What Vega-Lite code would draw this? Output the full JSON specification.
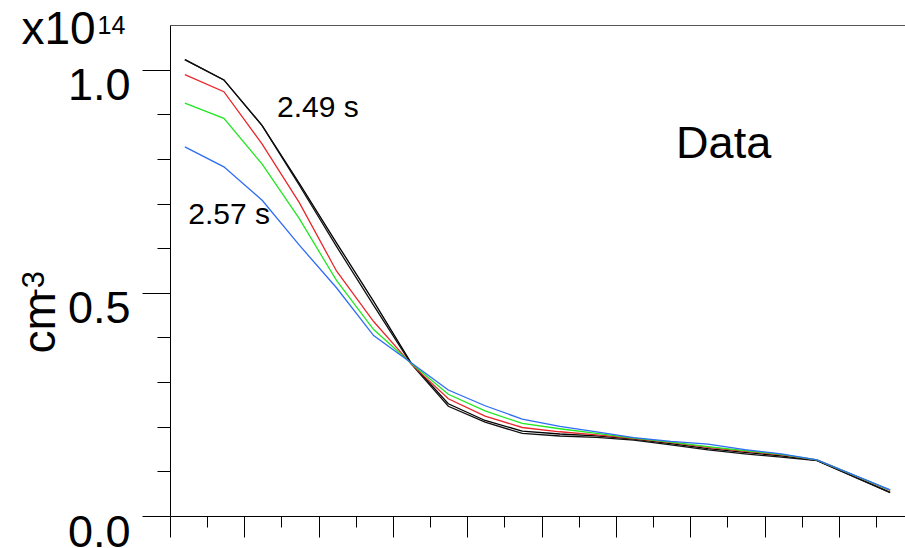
{
  "$schema": "https://vega.github.io/schema/vega-lite/v6.json",
  "width": 735,
  "height": 491,
  "autosize": {"type": "none"},
  "padding": {"left": 170, "top": 25, "right": 0, "bottom": 32},
  "background": "white",
  "config": {
    "font": "Liberation Sans",
    "view": {"stroke": null},
    "axis": {
      "domainColor": "#000000",
      "tickColor": "#000000",
      "domainWidth": 1,
      "tickWidth": 1,
      "grid": false,
      "labelColor": "#000000",
      "titleColor": "#000000",
      "titleFontWeight": "normal",
      "labelFlush": false,
      "labelOverlap": false,
      "labelBound": false
    }
  },
  "datasets": {
    "profiles": [
      {"series": "A", "r": 0.40, "n": 1.0225}, {"series": "A", "r": 1.45, "n": 0.977}, {"series": "A", "r": 2.48, "n": 0.8747}, {"series": "A", "r": 3.48, "n": 0.745}, {"series": "A", "r": 4.48, "n": 0.612}, {"series": "A", "r": 5.48, "n": 0.481}, {"series": "A", "r": 6.48, "n": 0.344}, {"series": "A", "r": 7.49, "n": 0.2514}, {"series": "A", "r": 8.48, "n": 0.214}, {"series": "A", "r": 9.48, "n": 0.1901}, {"series": "A", "r": 10.49, "n": 0.1837}, {"series": "A", "r": 11.48, "n": 0.1797}, {"series": "A", "r": 12.48, "n": 0.1722}, {"series": "A", "r": 13.48, "n": 0.1621}, {"series": "A", "r": 14.48, "n": 0.1511}, {"series": "A", "r": 15.47, "n": 0.1426}, {"series": "A", "r": 16.45, "n": 0.1347}, {"series": "A", "r": 17.41, "n": 0.1245}, {"series": "A", "r": 19.38, "n": 0.0531},
      {"series": "B", "r": 0.40, "n": 1.0225}, {"series": "B", "r": 1.45, "n": 0.977}, {"series": "B", "r": 2.48, "n": 0.8747}, {"series": "B", "r": 3.48, "n": 0.741}, {"series": "B", "r": 4.48, "n": 0.604}, {"series": "B", "r": 5.48, "n": 0.472}, {"series": "B", "r": 6.48, "n": 0.342}, {"series": "B", "r": 7.49, "n": 0.2458}, {"series": "B", "r": 8.48, "n": 0.2103}, {"series": "B", "r": 9.48, "n": 0.1849}, {"series": "B", "r": 10.49, "n": 0.1792}, {"series": "B", "r": 11.48, "n": 0.1763}, {"series": "B", "r": 12.48, "n": 0.170}, {"series": "B", "r": 13.48, "n": 0.1594}, {"series": "B", "r": 14.48, "n": 0.1482}, {"series": "B", "r": 15.47, "n": 0.1392}, {"series": "B", "r": 16.45, "n": 0.1318}, {"series": "B", "r": 17.41, "n": 0.124}, {"series": "B", "r": 19.38, "n": 0.0524},
      {"series": "C", "r": 0.40, "n": 0.9888}, {"series": "C", "r": 1.45, "n": 0.9506}, {"series": "C", "r": 2.48, "n": 0.8331}, {"series": "C", "r": 3.48, "n": 0.702}, {"series": "C", "r": 4.48, "n": 0.549}, {"series": "C", "r": 5.48, "n": 0.4357}, {"series": "C", "r": 6.48, "n": 0.3413}, {"series": "C", "r": 7.49, "n": 0.2627}, {"series": "C", "r": 8.48, "n": 0.2238}, {"series": "C", "r": 9.48, "n": 0.1983}, {"series": "C", "r": 10.49, "n": 0.1887}, {"series": "C", "r": 11.48, "n": 0.1819}, {"series": "C", "r": 12.48, "n": 0.1736}, {"series": "C", "r": 13.48, "n": 0.1644}, {"series": "C", "r": 14.48, "n": 0.1538}, {"series": "C", "r": 15.47, "n": 0.1448}, {"series": "C", "r": 16.45, "n": 0.137}, {"series": "C", "r": 17.41, "n": 0.1258}, {"series": "C", "r": 19.38, "n": 0.0575},
      {"series": "D", "r": 0.40, "n": 0.9252}, {"series": "D", "r": 1.45, "n": 0.8908}, {"series": "D", "r": 2.48, "n": 0.7882}, {"series": "D", "r": 3.48, "n": 0.666}, {"series": "D", "r": 4.48, "n": 0.5277}, {"series": "D", "r": 5.48, "n": 0.4177}, {"series": "D", "r": 6.48, "n": 0.343}, {"series": "D", "r": 7.49, "n": 0.2727}, {"series": "D", "r": 8.48, "n": 0.2354}, {"series": "D", "r": 9.48, "n": 0.2073}, {"series": "D", "r": 10.49, "n": 0.1955}, {"series": "D", "r": 11.48, "n": 0.1853}, {"series": "D", "r": 12.48, "n": 0.1745}, {"series": "D", "r": 13.48, "n": 0.1655}, {"series": "D", "r": 14.48, "n": 0.1556}, {"series": "D", "r": 15.47, "n": 0.1464}, {"series": "D", "r": 16.45, "n": 0.1381}, {"series": "D", "r": 17.41, "n": 0.1258}, {"series": "D", "r": 19.38, "n": 0.058},
      {"series": "E", "r": 0.40, "n": 0.8271}, {"series": "E", "r": 1.45, "n": 0.7822}, {"series": "E", "r": 2.48, "n": 0.7074}, {"series": "E", "r": 3.48, "n": 0.6068}, {"series": "E", "r": 4.48, "n": 0.5113}, {"series": "E", "r": 5.48, "n": 0.4042}, {"series": "E", "r": 6.48, "n": 0.344}, {"series": "E", "r": 7.49, "n": 0.2823}, {"series": "E", "r": 8.48, "n": 0.247}, {"series": "E", "r": 9.48, "n": 0.2172}, {"series": "E", "r": 10.49, "n": 0.201}, {"series": "E", "r": 11.48, "n": 0.1886}, {"series": "E", "r": 12.48, "n": 0.1758}, {"series": "E", "r": 13.48, "n": 0.1673}, {"series": "E", "r": 14.48, "n": 0.1612}, {"series": "E", "r": 15.47, "n": 0.1487}, {"series": "E", "r": 16.45, "n": 0.1392}, {"series": "E", "r": 17.41, "n": 0.1258}, {"series": "E", "r": 19.38, "n": 0.0584}
    ]
  },
  "data": {"name": "profiles"},
  "layer": [
    {
      "mark": {"type": "line", "strokeWidth": 1.3},
      "encoding": {
        "x": {
          "field": "r", "type": "quantitative",
          "scale": {"domain": [0, 19.78], "nice": false, "zero": false},
          "axis": {"orient": "bottom", "values": [0, 2, 4, 6, 8, 10, 12, 14, 16, 18], "tickSize": 21, "labels": false, "domain": true, "title": null}
        },
        "y": {
          "field": "n", "type": "quantitative",
          "scale": {"domain": [0, 1.1], "nice": false, "zero": false},
          "axis": {
            "orient": "left", "values": [0, 0.5, 1.0], "format": ".1f", "tickSize": 28,
            "labelFontSize": 45, "labelPadding": 12, "labelBaseline": "alphabetic", "labelOffset": 30,
            "domain": true,
            "title": "cm", "titleFontSize": 46, "titleAngle": -90, "titleAlign": "left", "titleBaseline": "alphabetic",
            "titleX": -116, "titleY": 328
          }
        },
        "color": {
          "field": "series", "type": "nominal",
          "scale": {"domain": ["A", "B", "C", "D", "E"], "range": ["#000000", "#111111", "#e8272b", "#22e622", "#2e6cf5"]},
          "legend": null
        }
      }
    },
    {
      "mark": {"type": "point", "opacity": 0},
      "encoding": {
        "x": {
          "field": "r", "type": "quantitative",
          "axis": {"orient": "bottom", "values": [1, 3, 5, 7, 9, 11, 13, 15, 17, 19], "tickSize": 11, "labels": false, "domain": false,
            "title": "x10", "titleFontSize": 46, "titleAlign": "left", "titleBaseline": "alphabetic", "titleAngle": 0,
            "titleX": -149, "titleY": -473}
        },
        "y": {
          "field": "n", "type": "quantitative",
          "axis": {"orient": "left", "values": [0.1, 0.2, 0.3, 0.4, 0.6, 0.7, 0.8, 0.9], "tickSize": 13, "labels": false, "domain": false,
            "title": "-3", "titleFontSize": 31, "titleAngle": -90, "titleAlign": "left", "titleBaseline": "alphabetic",
            "titleX": -127, "titleY": 273}
        }
      }
    },
    {
      "mark": {"type": "point", "opacity": 0},
      "encoding": {
        "x": {
          "field": "r", "type": "quantitative",
          "axis": {"orient": "top", "ticks": false, "labels": false, "domain": true, "domainColor": "#555555",
            "title": "14", "titleFontSize": 25, "titleAlign": "left", "titleBaseline": "alphabetic", "titleAngle": 0,
            "titleX": -73, "titleY": 8}
        },
        "y": {"field": "n", "type": "quantitative", "axis": null}
      }
    },
    {
      "data": {"values": [{}]},
      "mark": {"type": "text", "text": "2.49 s", "fontSize": 30, "align": "left", "baseline": "alphabetic", "color": "#000000"},
      "encoding": {
        "x": {"datum": 2.88, "type": "quantitative", "axis": null},
        "y": {"datum": 0.8938, "type": "quantitative", "axis": null}
      }
    },
    {
      "data": {"values": [{}]},
      "mark": {"type": "text", "text": "2.57 s", "fontSize": 30, "align": "left", "baseline": "alphabetic", "color": "#000000"},
      "encoding": {
        "x": {"datum": 0.49, "type": "quantitative", "axis": null},
        "y": {"datum": 0.6535, "type": "quantitative", "axis": null}
      }
    },
    {
      "data": {"values": [{}]},
      "mark": {"type": "text", "text": "Data", "fontSize": 45, "align": "left", "baseline": "alphabetic", "color": "#000000"},
      "encoding": {
        "x": {"datum": 13.62, "type": "quantitative", "axis": null},
        "y": {"datum": 0.801, "type": "quantitative", "axis": null}
      }
    }
  ],
  "resolve": {"axis": {"x": "independent", "y": "independent"}}
}
